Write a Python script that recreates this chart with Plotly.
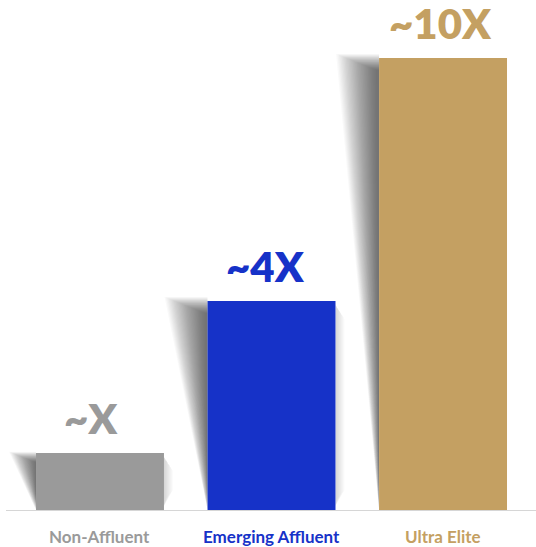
import plotly.graph_objects as go

categories = ["Non-Affluent", "Emerging Affluent", "Ultra Elite"]
values = [57, 209, 452]
value_labels = ["~X", "~4X", "~10X"]

colors = ["#9a9a9a", "#1632c8", "#c4a062"]
label_xshift = [-9, -6, -3]
BAR_W = 0.746
PX = 171.5  # pixels per x unit

x_idx = list(range(len(categories)))

fig = go.Figure()
fig.add_trace(go.Bar(
    x=x_idx, y=values, width=BAR_W,
    marker=dict(color=colors, line=dict(width=0)),
    hoverinfo="skip", showlegend=False, cliponaxis=False,
))

shapes = []
# blurred wedge shadows on the left side of each bar
K = 30
for i, v in enumerate(values):
    xl = i - BAR_W / 2
    xr = i + BAR_W / 2
    big = v > 100
    w_px = 23 if big else 14
    R = 20 if big else 13
    a = 0.022
    for k in range(K):
        s = -R + 2 * R * k / (K - 1)
        top = v - 4 - s * 0.4
        width = max(w_px - s, 1) / PX
        bottom = max(6 + s * 0.5, 0)
        path = f"M {xl},{top} L {xl - width},{top} L {xl},{bottom} Z"
        shapes.append(dict(type="path", path=path, xref="x", yref="y",
                           fillcolor="black", opacity=a,
                           line=dict(width=0), layer="below"))
    # faint shadow on the right side (small bars only)
    if i < 2:
        for k in range(1, 9):
            f = k / 8
            xw = xr + (9 / PX) * f
            shapes.append(dict(type="path",
                               path=f"M {xr},{v - 4} L {xw},{v - 4 - 14 * f} L {xw},{10 + 10 * f} L {xr},{4} Z",
                               xref="x", yref="y", fillcolor="black", opacity=0.02,
                               line=dict(width=0), layer="below"))

# baseline
shapes.append(dict(type="line", xref="paper", yref="y", x0=0, x1=1, y0=-1, y1=-1,
                   line=dict(color="#d6d6d6", width=2), layer="above"))

annotations = []
for i, (v, t) in enumerate(zip(values, value_labels)):
    annotations.append(dict(
        x=i, y=v, xref="x", yref="y", text=t, showarrow=False,
        yanchor="bottom", yshift=8, xshift=label_xshift[i],
        font=dict(family="Lato", size=42, color=colors[i], weight=800),
    ))
for i, c in enumerate(categories):
    annotations.append(dict(
        x=i, y=0, xref="x", yref="y", text=c, showarrow=False,
        yanchor="middle", yshift=-26,
        font=dict(family="Lato", size=17, color=colors[i], weight=700),
    ))

fig.update_layout(
    width=536, height=547,
    margin=dict(l=6, r=0, t=20, b=36),
    paper_bgcolor="white", plot_bgcolor="white",
    shapes=shapes, annotations=annotations,
    xaxis=dict(range=[-0.548, 2.542], showticklabels=False,
               showgrid=False, zeroline=False, showline=False, ticks=""),
    yaxis=dict(range=[-1, 490], visible=False, showgrid=False, zeroline=False),
)

fig.write_html("out.html", config={"displayModeBar": False},
               post_script="document.body.style.margin='0';")
